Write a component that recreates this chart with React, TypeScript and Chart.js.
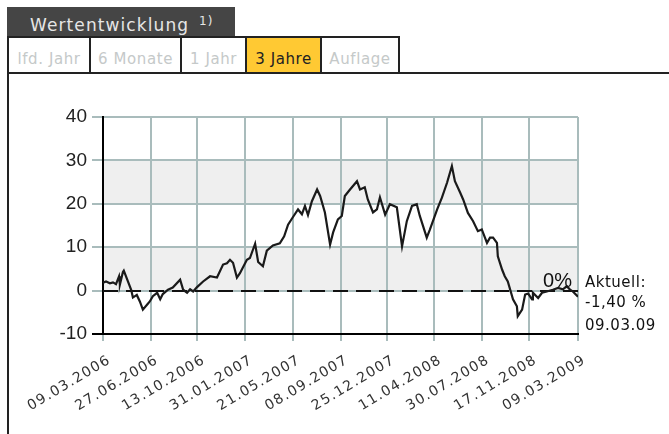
import React, { useEffect, useRef } from "react";
import { Chart, registerables } from "chart.js";

Chart.register(...registerables);

const headerTitle = "Wertentwicklung";
const headerNote = "1)";
const tabLabels = ["lfd. Jahr", "6 Monate", "1 Jahr", "3 Jahre", "Auflage"];
const activeTab = "3 Jahre";

const tickLabels = [
  "09.03.2006", "27.06.2006", "13.10.2006", "31.01.2007", "21.05.2007", "08.09.2007",
  "25.12.2007", "11.04.2008", "30.07.2008", "17.11.2008", "09.03.2009",
];
const yTicks = [-10, 0, 10, 20, 30, 40];

// days since 09.03.2006
const dayOffsets = [
  0, 7, 16, 23, 30, 37, 39, 46, 48, 65, 69, 78, 85, 92, 102, 108, 115, 125, 132, 138,
  150, 161, 178, 185, 194, 201, 208, 217, 231, 247, 263, 277, 286, 293, 300, 309, 316, 332, 339, 351,
  358, 369, 378, 392, 408, 418, 427, 438, 450, 459, 466, 473, 482, 494, 501, 512, 524, 531, 542, 551,
  558, 570, 586, 593, 604, 611, 623, 632, 639, 651, 662, 678, 690, 701, 713, 724, 731, 747, 754, 771,
  782, 794, 805, 812, 824, 831, 842, 854, 865, 874, 886, 893, 900, 909, 911, 921, 927, 934, 946, 955,
  957, 967, 974, 981, 990, 992, 1004, 1013, 1024, 1038, 1050, 1061, 1070, 1077, 1084, 1096,
];
const values = [
  1.8, 2.1, 1.7, 1.9, 1.5, 3.3, 1.4, 4.3, 4.6, 0.2, -1.6, -1.0, -2.5, -4.4, -3.2, -2.5, -1.3, -0.5, -2.0, -0.8,
  0.2, 0.7, 2.5, 0.2, -0.5, 0.3, -0.2, 0.8, 2.1, 3.3, 3.0, 6.0, 6.3, 7.1, 6.4, 3.0, 4.0, 7.1, 7.5, 10.8,
  6.6, 5.6, 9.2, 10.4, 10.9, 12.5, 15.2, 16.9, 18.7, 17.6, 19.5, 17.4, 20.6, 23.3, 21.8, 18.0, 10.6, 13.4, 16.4, 17.2,
  21.8, 23.3, 25.2, 23.3, 23.8, 21.0, 18.0, 18.7, 21.5, 17.5, 19.9, 19.2, 10.2, 16.0, 19.5, 19.9, 17.2, 12.2, 14.0, 18.7,
  21.4, 24.9, 28.7, 25.2, 22.6, 21.0, 17.9, 16.0, 13.7, 14.1, 11.0, 12.2, 12.2, 11.0, 7.9, 4.8, 3.3, 2.1, -2.0, -3.6,
  -5.9, -4.4, -0.9, -0.7, -2.0, -0.5, -1.7, -0.5, -0.2, 0.2, 0.6, 0.3, 1.0, 0.3, -0.2, -1.4,
];
const bands = [[0, 10], [20, 30]];
const zeroLabel = "0%";
const currentLines = ["Aktuell:", "-1,40 %", "09.03.09"];

const parseDay = (s: string) => {
  const [d, m, y] = s.split(".").map(Number);
  return Date.UTC(y, m - 1, d) / 86400000;
};
const tickDays = tickLabels.map((l) => parseDay(l) - parseDay(tickLabels[0]));

const GRID = "#a9bcbc";
const LABEL_ANGLE = 31;

const decor = {
  id: "decor",
  beforeDraw(chart: any) {
    const { ctx, chartArea: a, scales } = chart;
    const y = scales.y;
    ctx.save();
    ctx.fillStyle = "#efefef";
    for (const [lo, hi] of bands) {
      const t = y.getPixelForValue(hi);
      const b = y.getPixelForValue(lo);
      ctx.fillRect(a.left, t, a.right - a.left, b - t);
    }
    ctx.restore();
  },
  beforeDatasetsDraw(chart: any) {
    const { ctx, chartArea: a, scales } = chart;
    const y0 = Math.round(scales.y.getPixelForValue(0));
    ctx.save();
    ctx.strokeStyle = "#111";
    ctx.lineWidth = 2;
    ctx.setLineDash([15, 8]);
    ctx.beginPath();
    ctx.moveTo(a.left, y0);
    ctx.lineTo(a.right, y0);
    ctx.stroke();
    ctx.restore();
  },
  afterDraw(chart: any) {
    const { ctx, chartArea: a, scales } = chart;
    const y0 = scales.y.getPixelForValue(0);
    // rotated date labels on x axis
    ctx.save();
    ctx.fillStyle = "#333";
    ctx.font = '14px "DejaVu Sans", sans-serif';
    try { (ctx as any).letterSpacing = "1.4px"; } catch (e) {}
    ctx.textAlign = "right";
    ctx.textBaseline = "top";
    tickDays.forEach((d, i) => {
      const px = scales.x.getPixelForValue(d);
      ctx.save();
      ctx.translate(px + 3, a.bottom + 19);
      ctx.rotate((-LABEL_ANGLE * Math.PI) / 180);
      ctx.fillText(tickLabels[i], 0, 0);
      ctx.restore();
    });
    ctx.restore();

    ctx.save();
    ctx.fillStyle = "#111";
    ctx.textBaseline = "alphabetic";
    ctx.font = '20px "Liberation Sans", Arial, sans-serif';
    ctx.textAlign = "right";
    ctx.fillText(zeroLabel, a.right - 6, y0 - 4);
    ctx.font = '15px "DejaVu Sans", sans-serif';
    ctx.textAlign = "left";
    try { (ctx as any).letterSpacing = "0.5px"; } catch (e) {}
    const offs = [-4, 16, 39];
    currentLines.forEach((t, i) => ctx.fillText(t, a.right + 7, y0 + offs[i]));
    ctx.restore();
  },
};

function ChartBox() {
  const ref = useRef<HTMLCanvasElement>(null);
  useEffect(() => {
    if (!ref.current) return;
    const chart = new Chart(ref.current, {
      type: "line",
      data: {
        datasets: [
          {
            data: dayOffsets.map((d, i) => ({ x: d, y: values[i] })),
            borderColor: "#1a1a1a",
            borderWidth: 2.2,
            pointRadius: 0,
            tension: 0,
            fill: false,
          },
        ],
      },
      options: {
        responsive: false,
        animation: false,
        devicePixelRatio: 1,
        layout: { padding: { left: 0, top: 41, right: 91, bottom: 0 } },
        plugins: { legend: { display: false }, tooltip: { enabled: false } },
        scales: {
          x: {
            type: "linear",
            min: tickDays[0],
            max: tickDays[tickDays.length - 1],
            afterBuildTicks: (s: any) => {
              s.ticks = tickDays.map((v) => ({ value: v }));
            },
            afterFit: (s: any) => {
              s.height = 100;
            },
            grid: { color: GRID, lineWidth: 2, tickLength: 7, tickColor: GRID, tickWidth: 2 },
            border: { color: "#000", width: 2 },
            ticks: { display: false, autoSkip: false },
          },
          y: {
            min: yTicks[0],
            max: yTicks[yTicks.length - 1],
            afterBuildTicks: (s: any) => {
              s.ticks = yTicks.map((v) => ({ value: v }));
            },
            afterFit: (s: any) => {
              s.width = 94;
            },
            grid: {
              color: (c: any) => (c.tick && c.tick.value === yTicks[0] ? "#000" : GRID),
              lineWidth: 2,
              tickLength: 11,
            },
            border: { color: "#000", width: 2 },
            ticks: {
              padding: 5,
              color: "#222",
              font: { family: '"Liberation Sans", Arial, sans-serif', size: 19 },
            },
          },
        },
      },
      plugins: [decor],
    } as any);
    return () => chart.destroy();
  }, []);
  return <canvas ref={ref} width={660} height={358} style={{ display: "block" }} />;
}

export default function App() {
  const tabEdges = [7, 89, 180, 245, 320, 398];
  return (
    <div
      style={{
        position: "fixed",
        left: 0,
        top: 0,
        width: 669,
        height: 434,
        background: "#fff",
        overflow: "hidden",
        fontFamily: '"DejaVu Sans", sans-serif',
      }}
    >
      <div style={{ position: "absolute", left: 7, top: 7, width: 228, height: 29, background: "#454545" }}>
        <span
          style={{
            position: "absolute",
            left: 23,
            top: 10,
            fontSize: 17,
            lineHeight: "17px",
            letterSpacing: "1.1px",
            color: "#e6e6e6",
            whiteSpace: "nowrap",
          }}
        >
          {headerTitle}
        </span>
        <span
          style={{
            position: "absolute",
            left: 192,
            top: 8,
            fontSize: 12,
            lineHeight: "12px",
            letterSpacing: "1px",
            color: "#e6e6e6",
          }}
        >
          {headerNote}
        </span>
      </div>
      {tabLabels.map((t, i) => (
        <div
          key={t}
          style={{
            position: "absolute",
            left: tabEdges[i],
            top: 36,
            width: tabEdges[i + 1] - tabEdges[i] + 2,
            height: 38,
            boxSizing: "border-box",
            border: "2px solid #222",
            paddingTop: 4,
            background: t === activeTab ? "#ffc933" : "#fff",
            color: t === activeTab ? "#222" : "#c5c9c9",
            fontSize: 15,
            lineHeight: "34px",
            letterSpacing: "0.6px",
            textAlign: "center",
            whiteSpace: "nowrap",
          }}
        >
          {t}
        </div>
      ))}
      <div style={{ position: "absolute", left: 7, top: 72, width: 662, height: 2, background: "#222" }} />
      <div style={{ position: "absolute", left: 7, top: 36, width: 2, height: 398, background: "#222" }} />
      <div style={{ position: "absolute", left: 9, top: 76 }}>
        <ChartBox />
      </div>
    </div>
  );
}
